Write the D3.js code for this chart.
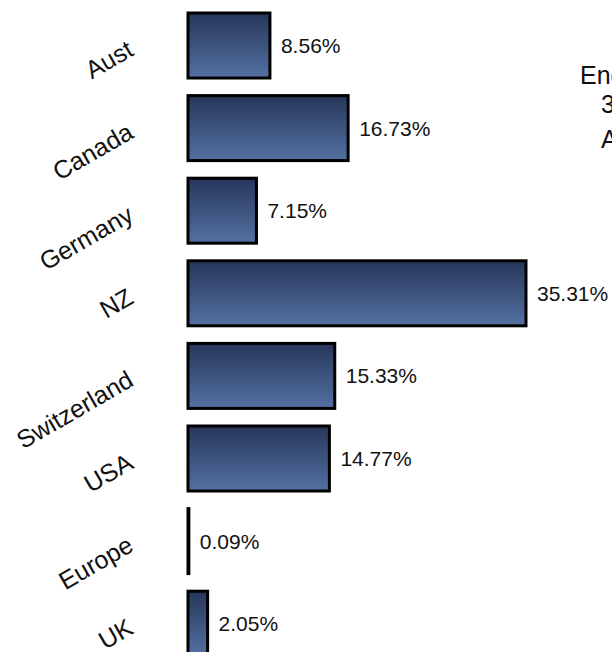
<!DOCTYPE html>
<html>
<head>
<meta charset="utf-8">
<script src="https://cdn.jsdelivr.net/npm/d3@7"></script>
<style>
  html, body { margin: 0; padding: 0; background: #fff; overflow: hidden; }
  text { font-family: "Liberation Sans", Arial, sans-serif; fill: #111; }
</style>
</head>
<body>
<div class="js-chart"></div>
<script>
let w = 612;
let h = 652;

// values
let categories = ['Aust', 'Canada', 'Germany', 'NZ', 'Switzerland', 'USA', 'Europe', 'UK'];
let shares = [8.56, 16.73, 7.15, 35.31, 15.33, 14.77, 0.09, 2.05];
let sideText = ['Energy', '30', 'All'];

let svg = d3.select('.js-chart').append('svg')
  .attr('width', w)
  .attr('height', h);

let defs = svg.append('defs');
let grad = defs.append('linearGradient')
  .attr('id', 'barFill')
  .attr('x1', 0).attr('y1', 0)
  .attr('x2', 0).attr('y2', 1);
grad.append('stop').attr('offset', '0%').attr('stop-color', '#27365a');
grad.append('stop').attr('offset', '100%').attr('stop-color', '#5371a2');

let x = d3.scaleLinear()
  .domain([0, d3.max(shares)])
  .range([188, 526]);

let y = d3.scaleBand()
  .domain(categories)
  .range([4.2, 665])
  .paddingInner(0.213)
  .paddingOuter(0.1065);

let data = categories.map((c, i) => ({ name: c, value: shares[i] }));

// bars
svg.selectAll('rect.bar')
  .data(data)
  .enter().append('rect')
  .attr('class', 'bar')
  .attr('x', x(0))
  .attr('y', d => y(d.name))
  .attr('width', d => x(d.value) - x(0))
  .attr('height', y.bandwidth())
  .style('fill', 'url(#barFill)')
  .style('stroke', '#000')
  .style('stroke-width', 3);

// value labels
svg.selectAll('text.value')
  .data(data)
  .enter().append('text')
  .attr('class', 'value')
  .attr('x', d => x(d.value) + 11)
  .attr('y', d => y(d.name) + y.bandwidth() / 2)
  .attr('dy', '0.36em')
  .style('font-size', '21px')
  .text(d => d.value.toFixed(2) + '%');

// rotated category labels
svg.selectAll('text.cat')
  .data(data)
  .enter().append('text')
  .attr('class', 'cat')
  .attr('text-anchor', 'end')
  .attr('transform', d => `translate(135,${y(d.name) + y.bandwidth() / 2 + 9}) rotate(-30)`)
  .style('font-size', '25px')
  .text(d => d.name);

// title lines, running off the right edge like the original
svg.selectAll('text.side')
  .data(sideText)
  .enter().append('text')
  .attr('class', 'side')
  .attr('x', (d, i) => i === 0 ? 580 : 601)
  .attr('y', (d, i) => [84, 113, 148][i])
  .style('font-size', '25px')
  .text(d => d);
</script>
</body>
</html>
